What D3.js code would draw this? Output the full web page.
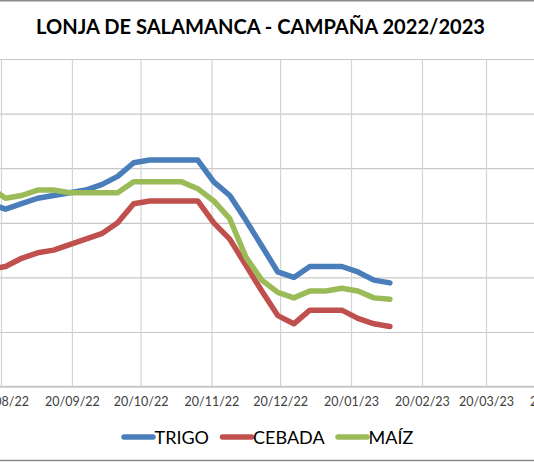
<!DOCTYPE html>
<html>
<head>
<meta charset="utf-8">
<script src="https://cdn.jsdelivr.net/npm/d3@7"></script>
<style>
  html, body { margin: 0; padding: 0; background: #fff; }
  svg { display: block; }
</style>
</head>
<body>
<svg id="chart" width="534" height="462"></svg>
<script>
// ---- data ----
const fechas = ["2022-08-15","2022-08-22","2022-08-29","2022-09-05","2022-09-12","2022-09-19",
  "2022-09-26","2022-10-03","2022-10-10","2022-10-17","2022-10-24","2022-10-31","2022-11-07",
  "2022-11-14","2022-11-21","2022-11-28","2022-12-05","2022-12-12","2022-12-19","2022-12-26",
  "2023-01-02","2023-01-09","2023-01-16","2023-01-23","2023-01-30","2023-02-06"];
const trigo  = [317,315,317,319,320,321,322,324,327,332,333,333,333,333,325,320,311,301.5,292,290,294,294,294,292,289,288];
const cebada = [293,294,297,299,300,302,304,306,310,317,318,318,318,318,310,304,294.5,285,276,273,278,278,278,275,273,272];
const maiz   = [323,319,320,322,322,321,321,321,321,325,325,325,325,322.5,318,311.5,297.5,289,284.5,282.5,285,285,286,285,282.5,282];
const seriesNames = ["TRIGO","CEBADA","MAÍZ"];
const seriesColors = ["#4a7ebb","#c0504d","#9bbb59"];
const yTicks = [250,270,290,310,330,350,370];
const xTickDates = ["2022-08-20","2022-09-20","2022-10-20","2022-11-20","2022-12-20",
  "2023-01-20","2023-02-20","2023-03-20","2023-04-20"];
const title = "LONJA DE SALAMANCA - CAMPAÑA 2022/2023";

// ---- chart ----
const svg = d3.select("#chart");
const W = 534, H = 462;
const parse = d3.utcParse("%Y-%m-%d");
const fmt = d3.utcFormat("%d/%m/%y");

const x = d3.scaleUtc()
  .domain([parse("2022-08-20"), parse("2023-03-20")])
  .range([1, 486]);
const y = d3.scaleLinear().domain([250, 370]).range([386.6, 59]);

const plotLeft = x(parse("2022-08-01")), plotRight = x(parse("2023-04-30"));

// borders of chart area
svg.append("line").attr("x1",0).attr("x2",W).attr("y1",0.75).attr("y2",0.75)
  .attr("stroke","#8c8c8c").attr("stroke-width",1.5);
svg.append("line").attr("x1",0).attr("x2",W).attr("y1",460.5).attr("y2",460.5)
  .attr("stroke","#8c8c8c").attr("stroke-width",1.5);

// title
svg.append("text")
  .attr("x", 260.5).attr("y", 33.5)
  .attr("text-anchor","middle")
  .attr("font-family","Lato, 'Open Sans', sans-serif")
  .attr("font-weight","bold").attr("font-size",21)
  .attr("fill","#000")
  .attr("textLength",449).attr("lengthAdjust","spacingAndGlyphs")
  .text(title);

// horizontal gridlines
const gY = svg.append("g")
  .attr("transform", `translate(${plotLeft},0)`)
  .call(d3.axisLeft(y).tickValues(yTicks).tickSize(-(plotRight - plotLeft)).tickFormat(""));
gY.select(".domain").remove();
gY.selectAll(".tick line").attr("stroke","#c8c8c8").attr("stroke-width",1.2);

// vertical gridlines + labels
const xt = xTickDates.map(parse);
const gX = svg.append("g")
  .attr("transform", `translate(0,${y(250)})`)
  .call(d3.axisBottom(x).tickValues(xt).tickSize(-(y(250) - y(370))).tickPadding(0).tickFormat(""));
gX.select(".domain").remove();
gX.selectAll(".tick line").attr("stroke","#d4d4d4").attr("stroke-width",1.2);

const gXL = svg.append("g")
  .attr("transform", `translate(0,${y(250)})`)
  .call(d3.axisBottom(x).tickValues(xt).tickSize(0).tickPadding(11).tickFormat(fmt));
gXL.select(".domain").remove();
gXL.selectAll("text")
  .attr("font-family","Lato, 'Open Sans', sans-serif")
  .attr("font-size",12.5).attr("fill","#404040");

// bottom axis line
svg.append("line").attr("x1",plotLeft).attr("x2",plotRight)
  .attr("y1",y(250)).attr("y2",y(250))
  .attr("stroke","#c8c8c8").attr("stroke-width",1.5);

// series lines
const dates = fechas.map(parse);
const allSeries = [trigo, cebada, maiz];
const line = d3.line().x((d,i) => x(dates[i])).y(d => y(d));
svg.append("g").selectAll("path")
  .data(allSeries)
  .join("path")
  .attr("d", d => line(d))
  .attr("fill","none")
  .attr("stroke",(d,i) => seriesColors[i])
  .attr("stroke-width",5.5)
  .attr("stroke-linejoin","round")
  .attr("stroke-linecap","round");

// legend
const legendX = [124, 222.5, 338];
const lg = svg.append("g");
seriesNames.forEach((name, i) => {
  lg.append("line")
    .attr("x1", legendX[i]).attr("x2", legendX[i] + 29)
    .attr("y1", 437).attr("y2", 437)
    .attr("stroke", seriesColors[i]).attr("stroke-width",5.5)
    .attr("stroke-linecap","round");
  lg.append("text")
    .attr("x", legendX[i] + 30.5).attr("y", 443.5)
    .attr("font-family","Lato, 'Open Sans', sans-serif")
    .attr("font-size",18).attr("fill","#000")
    .text(name);
});
</script>
</body>
</html>
